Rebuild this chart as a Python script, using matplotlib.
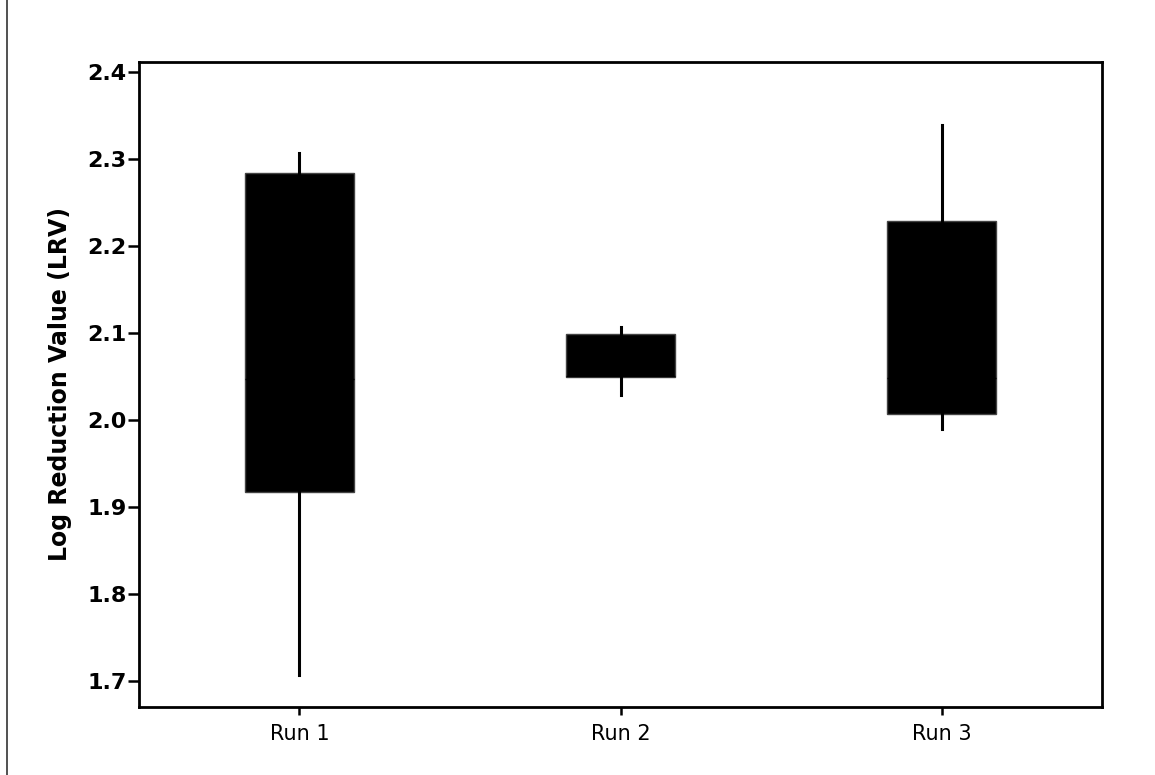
import matplotlib.pyplot as plt
from matplotlib.lines import Line2D

# Box plot summary values
runs = ['Run 1', 'Run 2', 'Run 3']
whisker_low = [1.707, 2.028, 1.989]
q1 = [1.917, 2.049, 2.007]
median = [2.047, 2.050, 2.048]
q3 = [2.284, 2.099, 2.229]
whisker_high = [2.307, 2.107, 2.339]

stats = []
for i, name in enumerate(runs):
    stats.append({
        'label': name,
        'whislo': whisker_low[i],
        'q1': q1[i],
        'med': median[i],
        'q3': q3[i],
        'whishi': whisker_high[i],
        'fliers': [],
    })

fig = plt.figure(figsize=(11.55, 7.75), dpi=100)
ax = fig.add_axes([0.1203, 0.0877, 0.834, 0.8327])

ax.bxp(
    stats,
    positions=[1, 2, 3],
    widths=0.34,
    patch_artist=True,
    showcaps=False,
    boxprops=dict(facecolor='black', edgecolor='#444444', linewidth=1),
    whiskerprops=dict(color='black', linewidth=2.2),
    medianprops=dict(color='black', linewidth=1),
)

ax.set_xlim(0.5, 3.5)
ax.set_ylim(1.670, 2.4115)
ax.set_yticks([1.7, 1.8, 1.9, 2.0, 2.1, 2.2, 2.3, 2.4])
ax.set_yticklabels(['1.7', '1.8', '1.9', '2.0', '2.1', '2.2', '2.3', '2.4'],
                   fontsize=16, fontweight='bold')
ax.set_xticks([1, 2, 3])
ax.set_xticklabels(runs, fontsize=15, fontweight='medium')

ax.tick_params(axis='y', direction='out', length=8, width=1.8, pad=1)
ax.tick_params(axis='x', direction='out', length=6, width=1.8, pad=6)

for spine in ax.spines.values():
    spine.set_linewidth(2)
    spine.set_color('black')

ax.set_ylabel('Log Reduction Value (LRV)', fontsize=17, fontweight='bold')
ax.yaxis.set_label_coords(-0.0696, 0.5)

# thin scanned border on the left of the figure
fig.add_artist(Line2D([0.006, 0.006], [0.0, 1.0], transform=fig.transFigure,
                      color='#333333', linewidth=1.2))

fig.savefig('out.png', dpi=100)
